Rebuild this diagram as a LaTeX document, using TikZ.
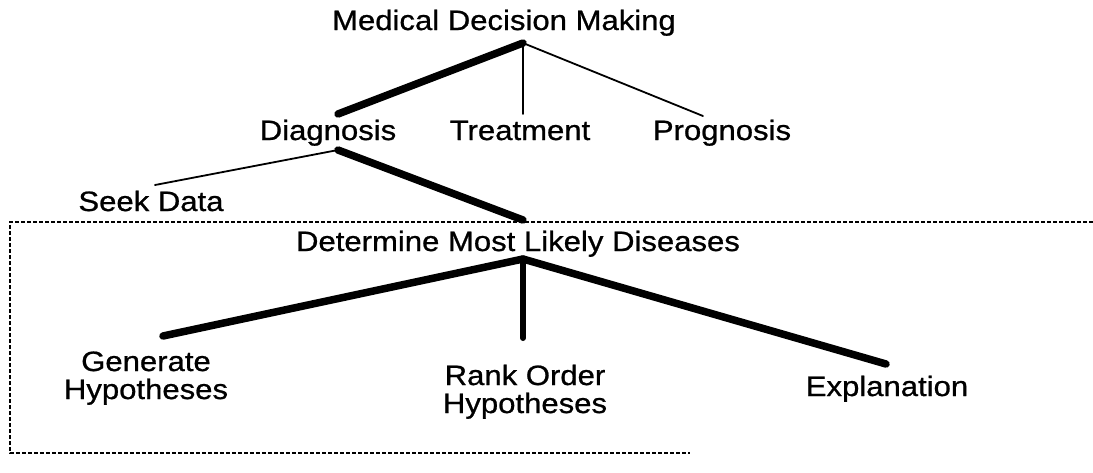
\documentclass[tikz,border=0pt]{standalone}
\usepackage{fontspec}
\setmainfont{Liberation Sans}[FakeStretch=1.11, FakeBold=0.8]
\begin{document}
\begin{tikzpicture}[x=1pt,y=-1pt,
  lbl/.style={inner sep=0pt, font=\fontsize{28}{28}\selectfont, anchor=base, align=center},
  heavy/.style={line width=7.5pt, line cap=round},
  light/.style={line width=1.8pt, line cap=round},
  frame/.style={line width=1.3pt, dash pattern=on 4pt off 2pt}]
\useasboundingbox (0,0) rectangle (1093,472);

% labels (two-line labels are placed by their last baseline)
\node[lbl] (mdm)  at (504,30)  {Medical Decision Making};
\node[lbl] (diag) at (328,140) {Diagnosis};
\node[lbl] (treat) at (520,140) {Treatment};
\node[lbl] (prog) at (722,140) {Prognosis};
\node[lbl] (seek) at (151,211) {Seek Data};
\node[lbl] (dmld) at (518,251) {Determine Most Likely Diseases};
\node[lbl] (gen)  at (146,399) {Generate\\Hypotheses};
\node[lbl] (rank) at (525,413) {Rank Order\\Hypotheses};
\node[lbl] (expl) at (887,396) {Explanation};

% branch points
\coordinate (mdmJ)   at (523,43);
\coordinate (diagT)  at (338,114);
\coordinate (treatT) at (523,114);
\coordinate (progT)  at (703,116);
\coordinate (diagJ)  at (338,150);
\coordinate (seekT)  at (155,185);
\coordinate (dmldT)  at (523,220);
\coordinate (dmldJ)  at (523,259);
\coordinate (genT)   at (163,336);
\coordinate (rankT)  at (523,338);
\coordinate (explT)  at (886,364);

% tree connectors
\draw[heavy] (mdmJ) -- (diagT);
\draw[light] (mdmJ) -- (treatT);
\draw[light] (mdmJ) -- (progT);
\draw[light] (diagJ) -- (seekT);
\draw[heavy] (diagJ) -- (dmldT);
\draw[heavy] (dmldJ) -- (genT);
\draw[line width=6pt, line cap=round] (dmldJ) -- (rankT);
\draw[heavy] (dmldJ) -- (explT);

% open dashed frame
\draw[frame] (1093,222) -- (10,222) -- (10,453) -- (690,453);
\end{tikzpicture}
\end{document}
